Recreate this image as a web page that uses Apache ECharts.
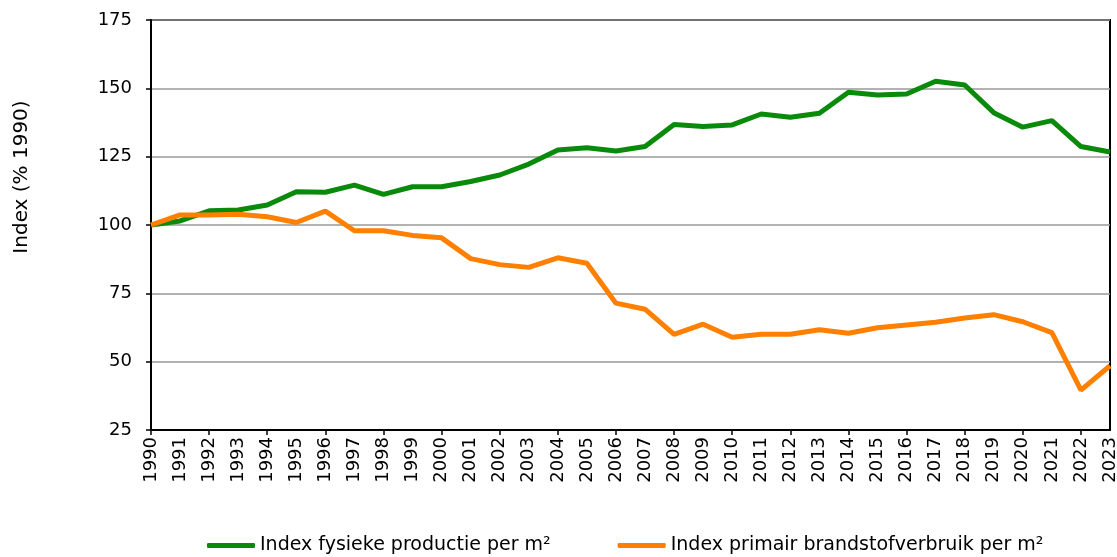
<!DOCTYPE html>
<html>
<head>
<meta charset="utf-8">
<script src="https://cdn.jsdelivr.net/npm/echarts@6/dist/echarts.min.js"></script>
<style>
  html, body { margin: 0; padding: 0; background: #fff; }
  #chart { width: 1117px; height: 557px; }
</style>
</head>
<body>
<div id="chart"></div>
<script>
const years = ['1990', '1991', '1992', '1993', '1994', '1995', '1996', '1997', '1998', '1999',
  '2000', '2001', '2002', '2003', '2004', '2005', '2006', '2007', '2008', '2009',
  '2010', '2011', '2012', '2013', '2014', '2015', '2016', '2017', '2018', '2019',
  '2020', '2021', '2022', '2023']

const productie = [100, 101.5, 105.2, 105.5, 107.3, 112.2, 112, 114.6, 111.2, 114,
  114, 115.9, 118.3, 122.3, 127.4, 128.3, 127.1, 128.7, 136.8, 136,
  136.6, 140.6, 139.4, 140.9, 148.6, 147.6, 147.9, 152.6, 151.2, 141.1,
  135.8, 138.2, 128.7, 126.7]

const brandstof = [100, 103.7, 103.7, 103.9, 103, 100.9, 105.1, 97.9, 97.9, 96.2,
  95.3, 87.7, 85.5, 84.5, 88, 86, 71.4, 69.2, 60, 63.7,
  58.9, 60, 60, 61.7, 60.4, 62.4, 63.4, 64.4, 66, 67.2,
  64.6, 60.6, 39.6, 48.5]

const seriesNames = ['Index fysieke productie per m²', 'Index primair brandstofverbruik per m²']
const yTitle = 'Index (% 1990)'

const font = 'DejaVu Sans, Verdana, sans-serif'
const Y_MIN = 25
const chart = echarts.init(document.getElementById('chart'))

chart.setOption({
  animation: false,
  grid: {
    left: 151, right: 7, top: 20, bottom: 127,
    show: true, borderColor: '#000', borderWidth: 2, backgroundColor: 'transparent',
  },
  legend: {
    data: seriesNames,
    left: 207,
    top: 536,
    padding: 0,
    icon: 'roundRect',
    itemWidth: 48,
    itemHeight: 5,
    itemGap: 67,
    textStyle: { fontSize: 19, color: '#000', fontFamily: font },
  },
  xAxis: {
    type: 'category',
    data: years,
    boundaryGap: false,
    axisLine: { lineStyle: { color: '#000', width: 2 } },
    axisTick: { show: true, length: 5, lineStyle: { color: '#000', width: 1.5 } },
    // year labels are drawn below as rotated text at the axis positions
    axisLabel: { show: false },
    splitLine: { show: false },
  },
  yAxis: {
    type: 'value',
    min: Y_MIN,
    max: 175,
    interval: 25,
    axisLine: { show: true, lineStyle: { color: '#000', width: 2 } },
    axisTick: { show: true, length: 5, lineStyle: { color: '#000', width: 1.5 } },
    axisLabel: { fontSize: 18, fontFamily: font, color: '#000', margin: 19 },
    splitLine: { show: true, lineStyle: { color: '#999', width: 1.5 } },
  },
  series: [
    {
      name: seriesNames[0],
      type: 'line',
      data: productie,
      showSymbol: false,
      lineStyle: { color: '#0a8a0a', width: 5 },
      itemStyle: { color: '#0a8a0a' },
      z: 3,
    },
    {
      name: seriesNames[1],
      type: 'line',
      data: brandstof,
      showSymbol: false,
      lineStyle: { color: '#ff8000', width: 5 },
      itemStyle: { color: '#ff8000' },
      z: 4,
    },
  ],
})

const axisY = chart.convertToPixel({ yAxisIndex: 0 }, Y_MIN)
const yearLabels = years.map((yr, i) => ({
  type: 'text',
  id: 'yr' + i,
  x: chart.convertToPixel({ xAxisIndex: 0 }, yr),
  y: axisY + 7,
  rotation: Math.PI / 2,
  style: {
    text: yr,
    fontSize: 18,
    fontFamily: font,
    fill: '#000',
    align: 'right',
    verticalAlign: 'middle',
  },
}))

chart.setOption({
  graphic: [
    {
      type: 'text',
      id: 'ytitle',
      x: 22,
      y: 177,
      rotation: Math.PI / 2,
      style: {
        text: yTitle,
        fontSize: 20,
        fontFamily: font,
        fill: '#000',
        align: 'center',
        verticalAlign: 'middle',
      },
    },
    ...yearLabels,
  ],
})
</script>
</body>
</html>
